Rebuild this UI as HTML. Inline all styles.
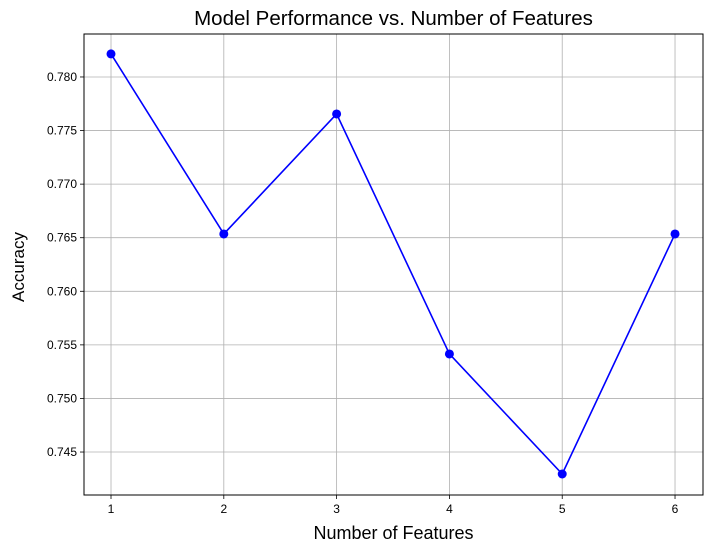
<!DOCTYPE html>
<html><head><meta charset="utf-8"><style>
body{margin:0;background:#fff;}
svg text{font-family:"Liberation Sans","DejaVu Sans",sans-serif;}
</style></head><body>
<svg id="chart" width="712" height="552" xmlns="http://www.w3.org/2000/svg">
<rect width="712" height="552" fill="#fff"/>
<g id="grid"></g>
<g id="ticks"></g>
<g id="series"></g>
<rect x="84" y="34" width="619" height="461" fill="none" stroke="#000" stroke-width="1"/>
<text x="393.5" y="25" text-anchor="middle" font-size="20.5">Model Performance vs. Number of Features</text>
<text x="393.5" y="539" text-anchor="middle" font-size="18">Number of Features</text>
<text x="24" y="267" text-anchor="middle" font-size="17" transform="rotate(-90 24 267)">Accuracy</text>
</svg>
<script>
const features = [1, 2, 3, 4, 5, 6];
const accuracy = [0.78215, 0.76535, 0.77655, 0.75415, 0.74295, 0.76535];
const xTicks = [1, 2, 3, 4, 5, 6];
const yTicks = [0.745, 0.750, 0.755, 0.760, 0.765, 0.770, 0.775, 0.780];

const L=84,R=703,T=34,B=495;
const xMin=0.7606,xMax=6.248,yMin=0.74099,yMax=0.78401;
const xs=v=>L+(v-xMin)/(xMax-xMin)*(R-L);
const ys=v=>B-(v-yMin)/(yMax-yMin)*(B-T);
const NS="http://www.w3.org/2000/svg";
function mk(tag,attrs,parent,txt){const e=document.createElementNS(NS,tag);for(const k in attrs)e.setAttribute(k,attrs[k]);if(txt!==undefined)e.textContent=txt;parent.appendChild(e);return e;}
const grid=document.getElementById('grid'),ticks=document.getElementById('ticks'),series=document.getElementById('series');
xTicks.forEach(t=>{const x=xs(t);
 const g=mk('line',{x1:x,x2:x,y1:T,y2:B,stroke:'#b0b0b0','stroke-width':0.8},grid);
 
 
 mk('line',{x1:x,x2:x,y1:B,y2:B+4,stroke:'#000','stroke-width':0.8},ticks);
 const l=mk('text',{x:x,y:B+18,'text-anchor':'middle','font-size':12},ticks,String(t));
 
 
});
yTicks.forEach(t=>{const y=ys(t);
 const g=mk('line',{x1:L,x2:R,y1:y,y2:y,stroke:'#b0b0b0','stroke-width':0.8},grid);
 
 
 mk('line',{x1:L-4,x2:L,y1:y,y2:y,stroke:'#000','stroke-width':0.8},ticks);
 const l=mk('text',{x:L-7,y:y+4,'text-anchor':'end','font-size':12},ticks,t.toFixed(3));
 
 
});
const pts=features.map((f,i)=>xs(f)+','+ys(accuracy[i])).join(' ');
const line=mk('polyline',{points:pts,fill:'none',stroke:'#0000ff','stroke-width':1.6},series);


features.forEach((f,i)=>{
 const c=mk('circle',{cx:xs(f),cy:ys(accuracy[i]),r:4.5,fill:'#0000ff'},series);
 
 
});
</script>
</body></html>
